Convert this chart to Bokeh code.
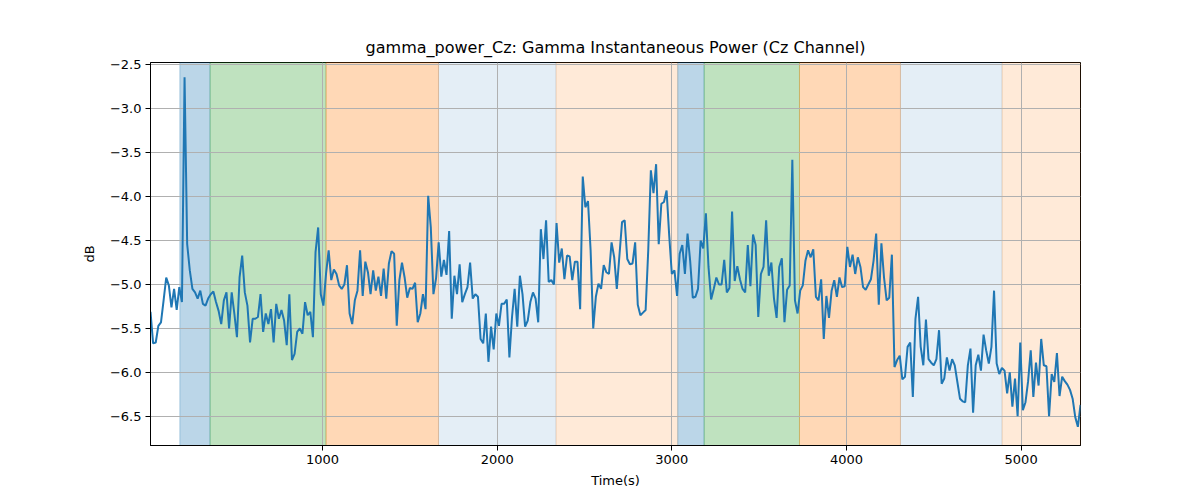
from bokeh.plotting import figure
from bokeh.models import Range1d, FixedTicker, BoxAnnotation, CustomJSTickFormatter
from bokeh.embed import file_html
from bokeh.resources import INLINE

# ---- data ----
t_start = 15.0
t_step = 15.0
power_db = [
    -5.31, -5.67, -5.66, -5.47, -5.43, -5.18, -4.92, -5.01, -5.26, -5.05,
    -5.29, -5.03, -5.20, -2.64, -4.54, -4.84, -5.05, -5.09, -5.16, -5.07,
    -5.22, -5.24, -5.16, -5.11, -5.08, -5.20, -5.30, -5.45, -5.18, -5.09,
    -5.50, -5.09, -5.33, -5.60, -4.92, -4.67, -5.09, -5.24, -5.66, -5.39,
    -5.39, -5.37, -5.11, -5.54, -5.33, -5.45, -5.28, -5.66, -5.22, -5.39,
    -5.29, -5.41,
    -5.69, -5.11, -5.86, -5.79, -5.54, -5.50, -5.56, -5.20, -5.35, -5.31,
    -5.60, -4.63, -4.35, -5.11, -5.24, -4.88, -4.61, -4.95, -4.83, -4.88,
    -5.01, -5.05, -5.00, -4.78, -5.33, -5.45, -5.18, -5.07, -4.61, -5.13,
    -4.74, -4.86, -5.11, -4.84, -5.07, -4.91, -5.13, -4.82, -5.16, -4.76,
    -4.62, -4.65, -5.47, -4.95, -4.75, -4.92, -5.15, -5.04, -5.05, -4.98,
    -5.43, -5.33, -5.11, -5.28, -3.99, -4.35, -5.11, -4.93, -4.52, -4.91,
    -4.72, -4.89, -4.39, -5.39, -4.90, -5.11, -4.77, -5.20, -5.11, -5.03,
    -4.75, -5.16, -5.11, -5.14, -5.62, -5.67, -5.33, -5.88, -5.48, -5.74,
    -5.33, -5.47, -5.22, -5.22, -5.17, -5.83, -5.37, -5.05, -5.48, -4.90,
    -5.11, -5.48, -5.41, -5.20, -5.09, -5.16, -5.43, -4.37, -4.71, -4.27,
    -4.97, -4.95, -5.00, -4.30, -4.75, -4.59, -4.94, -4.67, -4.68, -4.95,
    -4.74, -4.74, -5.28, -3.77, -4.12, -4.05, -4.61, -5.50, -5.14, -4.99,
    -5.05, -4.78, -4.86, -4.88, -4.52, -4.69, -5.05, -4.67, -4.29, -4.27,
    -4.71, -4.77, -4.76, -4.52, -5.23, -5.35, -5.32, -5.29, -4.61, -3.70,
    -3.96, -3.63, -4.54, -4.08, -4.06, -3.93, -4.44, -4.88, -4.84, -5.13,
    -4.65,
    -4.55, -4.88, -4.42, -4.73, -5.15, -5.14, -5.05, -4.50, -4.59, -4.19,
    -4.80, -5.17, -5.05, -4.92, -5.00, -5.00, -4.72, -5.09, -5.04, -4.17,
    -4.96, -4.79, -4.94, -5.05, -5.09, -4.55, -5.02, -4.43, -4.55, -5.37,
    -4.88, -4.80, -4.27, -4.90, -4.75, -5.16, -5.38, -4.80, -4.70, -5.43,
    -5.06, -5.01, -3.58, -5.18, -5.33, -5.07, -5.01, -4.73, -4.61, -4.69,
    -4.60, -5.14, -5.18, -4.94, -5.62, -5.13, -5.38, -5.07, -4.95, -5.14,
    -4.92, -5.03, -5.02, -4.57, -4.80, -4.66, -4.88, -4.69, -4.80, -5.03,
    -5.06, -5.00, -4.94, -4.73, -4.42, -5.23, -4.53, -4.92, -5.18, -5.15,
    -4.66, -5.94, -5.86, -5.81, -6.08, -6.05, -5.71, -5.66, -6.28, -5.39,
    -5.14, -5.71, -5.92, -5.40, -5.85, -5.89, -5.92, -5.85, -5.52, -6.13,
    -6.07, -5.83, -5.98, -5.85, -5.92, -6.11, -6.30, -6.33, -6.34, -5.92,
    -5.73, -6.46, -5.92, -5.80, -5.98, -5.57, -5.75, -5.90, -5.71, -5.07,
    -5.90, -6.02, -5.95, -5.98, -6.24, -6.00, -6.39, -6.07, -6.50, -5.66,
    -6.43, -6.34, -6.10, -5.75, -6.28, -5.89, -6.15, -5.62, -5.92, -5.93,
    -6.50, -6.02, -6.11, -5.78, -6.27, -6.05, -6.10, -6.14, -6.20, -6.30,
    -6.51, -6.62, -6.37,
]
time_s = [t_start + t_step * i for i in range(len(power_db))]

span_starts = [183, 356, 1020, 1664, 2337, 3034, 3185, 3731, 4309, 4891]
span_ends = [356, 1020, 1664, 2337, 3034, 3185, 3731, 4309, 4891, 5340]
span_colors = ["#1f77b4", "#2ca02c", "#ff7f0e", "#1f77b4", "#ff7f0e",
               "#1f77b4", "#2ca02c", "#ff7f0e", "#1f77b4", "#ff7f0e"]
span_alphas = [0.3, 0.3, 0.3, 0.12, 0.16, 0.3, 0.3, 0.3, 0.12, 0.16]

x_ticks = [1000, 2000, 3000, 4000, 5000]
y_ticks = [-6.5, -6.0, -5.5, -5.0, -4.5, -4.0, -3.5, -3.0, -2.5]

FONT = "DejaVu Sans"

p = figure(
    width=1200, height=500,
    output_backend="svg", toolbar_location=None,
    x_range=Range1d(time_s[0], time_s[-1]),
    y_range=Range1d(-6.833, -2.472),
    title="gamma_power_Cz: Gamma Instantaneous Power (Cz Channel)",
    min_border_left=150, min_border_right=120,
    min_border_top=62, min_border_bottom=55,
)
p.background_fill_color = "white"
p.border_fill_color = "white"
p.outline_line_color = "black"
p.outline_line_width = 1
p.outline_line_alpha = 1.0

p.title.align = "center"
p.title.text_font = FONT
p.title.text_font_size = "16px"
p.title.text_font_style = "normal"
p.title.text_color = "black"
p.title.standoff = 12

for s, e, c, a in zip(span_starts, span_ends, span_colors, span_alphas):
    box = BoxAnnotation(left=s, right=e, fill_color=c, fill_alpha=a,
                        line_color=c, line_alpha=a, line_width=1,
                        level="image")
    p.add_layout(box)

p.line(time_s, power_db, line_color="#1f77b4", line_width=2)

p.xaxis.ticker = FixedTicker(ticks=x_ticks)
p.yaxis.ticker = FixedTicker(ticks=y_ticks)
p.yaxis.formatter = CustomJSTickFormatter(code="return tick.toFixed(1).replace('-', '\u2212');")
p.xaxis.formatter = CustomJSTickFormatter(code="return tick.toFixed(0);")

for ax in (p.xaxis[0], p.yaxis[0]):
    ax.major_label_text_font = FONT
    ax.major_label_text_font_size = "13px"
    ax.major_label_text_color = "black"
    ax.axis_label_text_font = FONT
    ax.axis_label_text_font_size = "13px"
    ax.axis_label_text_font_style = "normal"
    ax.axis_label_text_color = "black"
    ax.axis_line_color = "black"
    ax.major_tick_line_color = "black"
    ax.major_tick_in = 0
    ax.major_tick_out = 5
    ax.minor_tick_line_color = None
    ax.major_label_standoff = 4

p.xaxis.axis_label = "Time(s)"
p.yaxis.axis_label = "dB"
p.xaxis.axis_label_standoff = 6
p.yaxis.axis_label_standoff = 10

p.grid.grid_line_color = "#b0b0b0"
p.grid.grid_line_width = 1
p.grid.grid_line_alpha = 1.0

open("out.html", "w").write(file_html(p, INLINE))
